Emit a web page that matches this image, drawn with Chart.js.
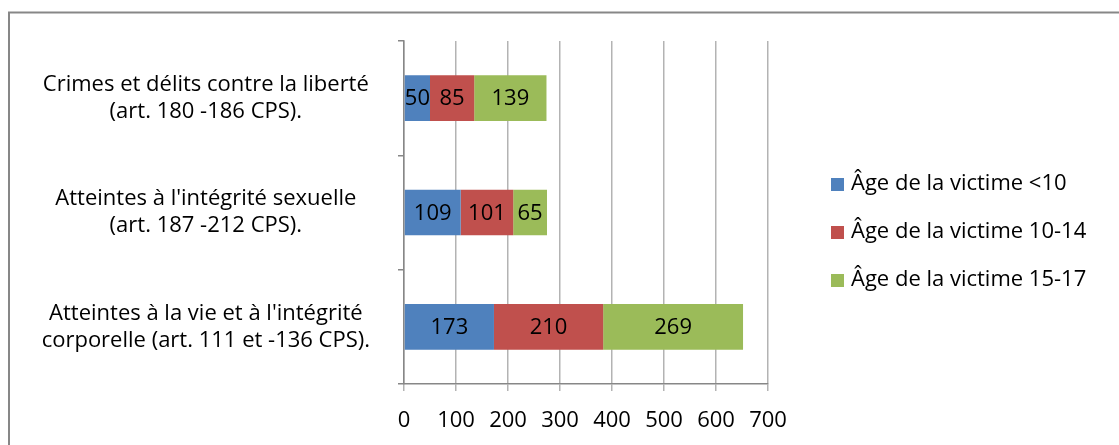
<!DOCTYPE html>
<html>
<head>
<meta charset="utf-8">
<script src="https://cdn.jsdelivr.net/npm/chart.js@4.4.0/dist/chart.umd.min.js"></script>
<style>
  html, body { margin: 0; padding: 0; background: #fff; }
  #wrap { width: 1119px; height: 445px; position: relative; }
</style>
</head>
<body>
<div id="wrap"><canvas id="chart"></canvas></div>
<script>
// categories (multi-line labels, as in the original)
const categories = [
  ['Crimes et délits contre la liberté', '(art. 180 -186 CPS).'],
  ["Atteintes à l'intégrité sexuelle", '(art. 187 -212 CPS).'],
  ["Atteintes à la vie et à l'intégrité", 'corporelle (art. 111 et -136 CPS).']
];
const seriesNames = ['Âge de la victime <10', 'Âge de la victime 10-14', 'Âge de la victime 15-17'];
const under10 = [50, 109, 173];
const age10to14 = [85, 101, 210];
const age15to17 = [139, 65, 269];
const xMin = 0, xMax = 700, xStep = 100;

const colors = ['#4F81BD', '#C0504D', '#9BBB59'];
const FONT = '"Open Sans"';
const FSIZE = 22;

// outer frame of the chart (only top and left edges are visible)
const framePlugin = {
  id: 'frame',
  beforeDraw(chart) {
    const c = chart.ctx;
    c.save();
    c.fillStyle = '#fff';
    c.fillRect(0, 0, chart.width, chart.height);
    c.strokeStyle = '#878787';
    c.lineWidth = 2;
    c.strokeRect(9, 12.5, chart.width + 20, chart.height + 20);
    c.restore();
  }
};

// values inside each segment
const valueLabels = {
  id: 'valueLabels',
  afterDatasetsDraw(chart) {
    const c = chart.ctx;
    c.save();
    c.font = FSIZE + 'px ' + FONT;
    c.fillStyle = '#000';
    c.textAlign = 'center';
    c.textBaseline = 'middle';
    chart.data.datasets.forEach((ds, i) => {
      chart.getDatasetMeta(i).data.forEach((el, j) => {
        c.fillText(String(ds.data[j]), (el.x + el.base) / 2, el.y + 1);
      });
    });
    c.restore();
  }
};

// legend on the right, one entry per line
const sideLegend = {
  id: 'sideLegend',
  afterDraw(chart) {
    const c = chart.ctx;
    c.save();
    c.font = FSIZE + 'px ' + FONT;
    c.textBaseline = 'middle';
    chart.data.datasets.forEach((ds, i) => {
      const y = 184 + i * 48;
      c.fillStyle = ds.backgroundColor;
      c.fillRect(831, y - 6, 13, 13);
      c.fillStyle = '#000';
      c.fillText(ds.label, 851, y);
    });
    c.restore();
  }
};

const ctx = document.getElementById('chart').getContext('2d');
new Chart(ctx, {
  type: 'bar',
  data: {
    labels: categories,
    datasets: [under10, age10to14, age15to17].map((d, i) => ({
      label: seriesNames[i],
      data: d,
      backgroundColor: colors[i],
      borderWidth: 0,
      categoryPercentage: 1,
      barPercentage: 0.4
    }))
  },
  options: {
    indexAxis: 'y',
    responsive: true,
    maintainAspectRatio: false,
    animation: false,
    layout: { padding: { top: 41, right: 351, bottom: 0, left: 0 } },
    plugins: {
      legend: { display: false },
      tooltip: { enabled: false }
    },
    scales: {
      x: {
        stacked: true,
        min: xMin,
        max: xMax,
        ticks: { stepSize: xStep, color: '#000', font: { family: FONT, size: FSIZE }, padding: 17, maxRotation: 0 },
        grid: { color: '#b3b3b3', lineWidth: 1.5, tickLength: 7 },
        border: { color: '#878787', width: 1.5 },
        afterFit(scale) { scale.height = 61; }
      },
      y: {
        stacked: true,
        ticks: {
          color: '#000',
          font: { family: FONT, size: FSIZE, lineHeight: 1.22 },
          crossAlign: 'center',
          padding: 28
        },
        grid: { drawOnChartArea: false, color: '#878787', lineWidth: 1.5, tickLength: 6 },
        border: { color: '#878787', width: 1.5 },
        afterFit(scale) {
          scale.width = 404;
          // labels sit on band centres, no extra room needed above/below
          scale.paddingTop = 0;
          scale.paddingBottom = 0;
        }
      }
    }
  },
  plugins: [framePlugin, valueLabels, sideLegend]
});
</script>
</body>
</html>
